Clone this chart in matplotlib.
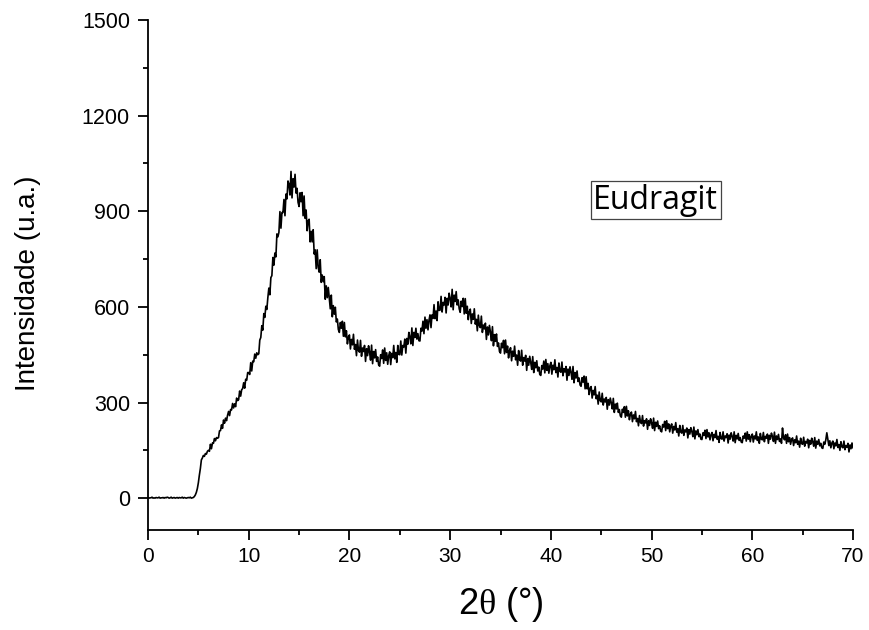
import numpy as np
import matplotlib
matplotlib.use("Agg")
import matplotlib.pyplot as plt
from matplotlib import font_manager
from matplotlib.ticker import MultipleLocator

# Powder XRD pattern of Eudragit, sampled every 0.1 degree (2-theta), one row per degree
two_theta = np.round(np.arange(0, 70.0001, 0.1), 1)
intensity = [
    2, 0, 1, 1, 3, 0, 1, 0, 2, 1,
    1, 3, 0, 1, 1, 2, 0, 2, 1, 3,
    2, 0, 1, 3, 0, 1, 2, 0, 1, 2,
    0, 2, 1, 1, 3, 0, 2, 1, 0, 1,
    2, 1, 3, 0, 1, 2, 5, 10, 18, 30,
    48, 72, 93, 120, 126, 134, 131, 140, 138, 147,
    150, 147, 169, 155, 173, 172, 187, 180, 190, 188,
    190, 211, 212, 230, 219, 245, 235, 251, 243, 260,
    272, 259, 278, 277, 297, 283, 296, 287, 314, 306,
    309, 336, 320, 340, 344, 362, 345, 373, 370, 394,
    394, 388, 425, 399, 430, 428, 452, 439, 456, 450,
    453, 496, 504, 541, 527, 579, 567, 602, 592, 629,
    659, 638, 692, 698, 755, 731, 769, 757, 829, 820,
    834, 899, 847, 896, 896, 937, 886, 954, 939, 995,
    985, 951, 1025, 942, 1002, 976, 1016, 957, 972, 928,
    915, 958, 930, 959, 886, 948, 878, 904, 839, 870,
    875, 804, 837, 804, 842, 766, 779, 720, 779, 724,
    709, 748, 677, 700, 679, 695, 624, 666, 629, 661,
    626, 594, 637, 569, 604, 577, 599, 553, 562, 529,
    520, 551, 533, 555, 508, 551, 506, 525, 484, 505,
    512, 468, 498, 481, 514, 467, 482, 447, 496, 463,
    458, 495, 445, 471, 460, 479, 429, 469, 447, 478,
    458, 433, 480, 422, 460, 440, 466, 429, 443, 418,
    414, 450, 438, 465, 423, 471, 432, 456, 420, 447,
    459, 419, 454, 441, 479, 437, 457, 426, 479, 451,
    450, 493, 449, 479, 474, 499, 455, 501, 483, 520,
    506, 484, 534, 479, 520, 504, 533, 499, 516, 494,
    493, 533, 524, 555, 516, 568, 533, 560, 528, 558,
    575, 535, 575, 564, 607, 563, 587, 557, 616, 589,
    590, 633, 584, 614, 606, 630, 581, 627, 606, 643,
    626, 600, 655, 591, 637, 617, 648, 606, 622, 594,
    583, 618, 601, 627, 578, 626, 580, 602, 560, 585,
    593, 548, 578, 561, 594, 546, 561, 525, 574, 541,
    535, 571, 520, 543, 531, 549, 498, 537, 512, 542,
    521, 494, 538, 478, 513, 492, 515, 476, 487, 460,
    455, 486, 472, 495, 453, 496, 457, 477, 440, 463,
    472, 431, 461, 445, 477, 434, 449, 417, 463, 434,
    430, 464, 417, 441, 430, 448, 401, 438, 417, 445,
    426, 404, 444, 394, 426, 409, 431, 399, 411, 388,
    385, 416, 405, 430, 393, 435, 401, 422, 392, 415,
    426, 389, 417, 403, 434, 394, 410, 380, 424, 398,
    395, 427, 384, 406, 396, 413, 370, 405, 385, 412,
    395, 373, 413, 362, 394, 377, 399, 366, 377, 355,
    351, 378, 364, 383, 343, 381, 343, 360, 325, 345,
    350, 314, 338, 324, 350, 312, 323, 295, 333, 306,
    302, 329, 292, 311, 302, 316, 279, 309, 292, 314,
    299, 280, 313, 269, 295, 280, 298, 269, 278, 258,
    254, 279, 269, 287, 254, 288, 258, 274, 246, 264,
    270, 240, 261, 249, 272, 240, 250, 227, 259, 238,
    234, 259, 226, 243, 236, 249, 216, 243, 228, 249,
    236, 219, 251, 212, 238, 225, 242, 218, 227, 211,
    208, 231, 223, 241, 212, 243, 218, 233, 208, 226,
    233, 204, 225, 214, 237, 207, 218, 195, 228, 207,
    204, 228, 197, 214, 208, 220, 189, 215, 201, 221,
    209, 193, 223, 186, 211, 199, 215, 193, 201, 185,
    184, 205, 197, 213, 187, 215, 192, 205, 183, 199,
    206, 180, 200, 190, 212, 185, 194, 175, 206, 187,
    185, 208, 179, 195, 190, 202, 173, 198, 185, 205,
    194, 179, 208, 174, 197, 186, 203, 181, 190, 176,
    174, 195, 188, 204, 179, 208, 185, 199, 177, 194,
    201, 176, 195, 186, 208, 181, 192, 172, 203, 185,
    183, 206, 177, 194, 188, 201, 172, 197, 185, 204,
    194, 178, 207, 172, 195, 184, 200, 178, 186, 172,
    220, 189, 183, 199, 172, 201, 177, 190, 169, 184,
    189, 165, 183, 174, 195, 169, 179, 160, 188, 171,
    169, 191, 163, 178, 173, 185, 158, 181, 169, 188,
    177, 163, 190, 157, 179, 169, 184, 164, 172, 158,
    156, 176, 169, 183, 205, 186, 165, 180, 158, 173,
    179, 155, 173, 164, 184, 159, 168, 150, 177, 161,
    158, 179, 152, 165, 160, 172, 145, 167, 155, 173,
    158,
]

x_ticks = [0, 10, 20, 30, 40, 50, 60, 70]
y_ticks = [0, 300, 600, 900, 1200, 1500]
sample_name = "Eudragit"
x_title = "2$\\theta$ (°)"
y_title = "Intensidade (u.a.)"

installed = {f.name for f in font_manager.fontManager.ttflist}
narrow = "Liberation Sans Narrow" if "Liberation Sans Narrow" in installed else "Liberation Sans"

plt.rcParams["font.family"] = ["Liberation Sans", "DejaVu Sans"]
plt.rcParams["mathtext.fontset"] = "custom"
plt.rcParams["mathtext.it"] = "Liberation Serif"
plt.rcParams["mathtext.rm"] = "Liberation Serif"
plt.rcParams["xtick.labelsize"] = 15
plt.rcParams["ytick.labelsize"] = 15.5

fig = plt.figure(figsize=(8.69, 6.3), dpi=100)
ax = fig.add_axes([0.1703, 0.1587, 0.8113, 0.8095])

ax.plot(two_theta, intensity, color="black", linewidth=1.2)

ax.set_xlim(0, 70)
ax.set_ylim(-100, 1500)
ax.set_xticks(x_ticks)
ax.set_yticks(y_ticks)
ax.xaxis.set_minor_locator(MultipleLocator(5))
ax.yaxis.set_minor_locator(MultipleLocator(150))

for side in ("top", "right"):
    ax.spines[side].set_visible(False)
for side in ("left", "bottom"):
    ax.spines[side].set_linewidth(1.3)

ax.tick_params(which="major", direction="out", length=7.5, width=1.3)
ax.tick_params(which="minor", direction="out", length=3.5, width=1.3)
ax.tick_params(axis="y", which="major", pad=5.5)
ax.tick_params(axis="x", which="major", pad=4.5)
for lbl in ax.get_xticklabels():
    lbl.set_fontfamily(narrow)

ax.set_xlabel(x_title, fontsize=26)
ax.set_ylabel(y_title, fontsize=20)
ax.xaxis.set_label_coords(0.5, -0.108)
ax.yaxis.set_label_coords(-0.152, 0.484)

ax.text(50.4, 934, sample_name, fontsize=23, family="Open Sans",
        ha="center", va="center",
        bbox=dict(boxstyle="square,pad=0.08", facecolor="white",
                  edgecolor="#444444", linewidth=0.9))

fig.savefig("out.png", dpi=100)
